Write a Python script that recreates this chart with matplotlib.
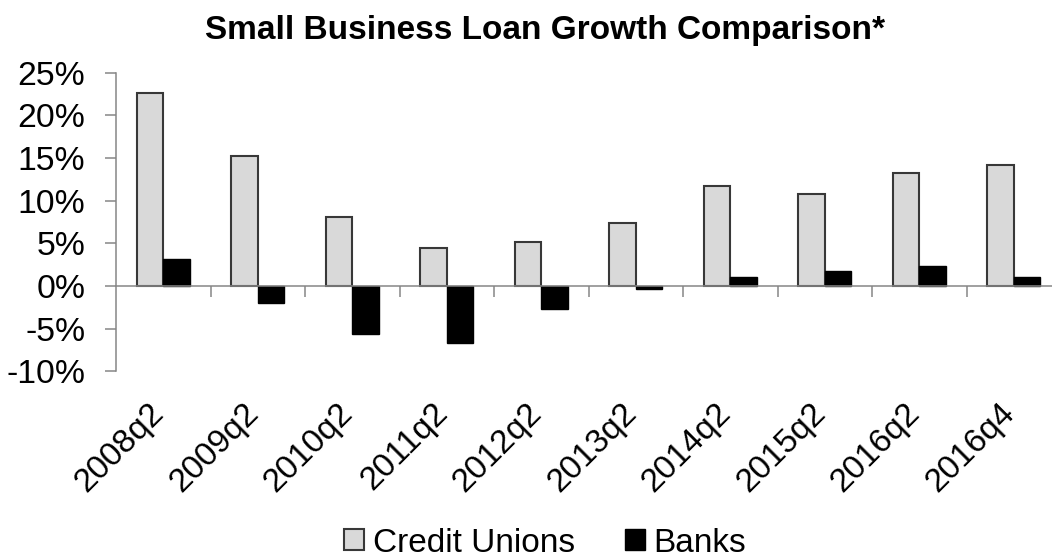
import matplotlib
matplotlib.use("Agg")
import matplotlib.pyplot as plt
import numpy as np
from matplotlib.ticker import FixedLocator, FuncFormatter
from matplotlib.transforms import ScaledTranslation

# data (percent growth)
quarters = ["2008q2", "2009q2", "2010q2", "2011q2", "2012q2",
            "2013q2", "2014q2", "2015q2", "2016q2", "2016q4"]
credit_unions = [22.6, 15.2, 8.1, 4.4, 5.2, 7.4, 11.7, 10.8, 13.3, 14.2]
banks = [3.2, -2.0, -5.6, -6.7, -2.7, -0.4, 1.0, 1.8, 2.4, 1.1]

plt.rcParams["font.family"] = ["Liberation Sans", "DejaVu Sans"]

fig = plt.figure(figsize=(10.52, 5.59), dpi=100)
ax = fig.add_axes([116 / 1052, 1 - 371.3 / 559, 945 / 1052, (371.3 - 72.7) / 559])

x = np.arange(len(quarters))
width = 0.282
ax.bar(x - width / 2, credit_unions, width, color="#d9d9d9",
       edgecolor="#383838", linewidth=1.5, label="Credit Unions")
ax.bar(x + width / 2, banks, width, color="black",
       edgecolor="black", linewidth=1.0, label="Banks")

ax.set_xlim(-0.5, len(quarters) - 0.5)
ax.set_ylim(-10, 25)
ax.set_yticks(range(-10, 26, 5))
ax.yaxis.set_major_formatter(FuncFormatter(lambda v, p: f"{v:.0f}%"))

axis_grey = "#868686"
for side in ["top", "right"]:
    ax.spines[side].set_visible(False)
ax.spines["bottom"].set_position(("data", 0))
ax.spines["bottom"].set_color(axis_grey)
ax.spines["left"].set_color(axis_grey)
ax.spines["bottom"].set_linewidth(1.1)
ax.spines["left"].set_linewidth(1.1)

ax.tick_params(axis="y", direction="out", length=8, width=1.1,
               color=axis_grey, pad=14, labelsize=24.3)
ax.set_xticks(x)
ax.set_xticklabels(quarters, rotation=45, ha="right")
ax.xaxis.set_minor_locator(FixedLocator(x + 0.5))
ax.tick_params(axis="x", which="major", length=0, pad=80, labelsize=24)
ax.tick_params(axis="x", which="minor", direction="out", length=8,
               width=1.1, color=axis_grey)
for lab in ax.get_xticklabels():
    lab.set_transform(lab.get_transform() + ScaledTranslation(0.07, 0, fig.dpi_scale_trans))

fig.text(545 / 1052, 1 - 31 / 559, "Small Business Loan Growth Comparison*",
         ha="center", va="center", fontsize=24, fontweight="bold")

fig.legend(loc="center", bbox_to_anchor=(545 / 1052, 1 - 543 / 559), ncol=2,
           frameon=False, fontsize=24, handlelength=0.6, handleheight=0.6,
           handletextpad=0.25, columnspacing=1.5, borderaxespad=0)

fig.savefig("out.png", dpi=100)
